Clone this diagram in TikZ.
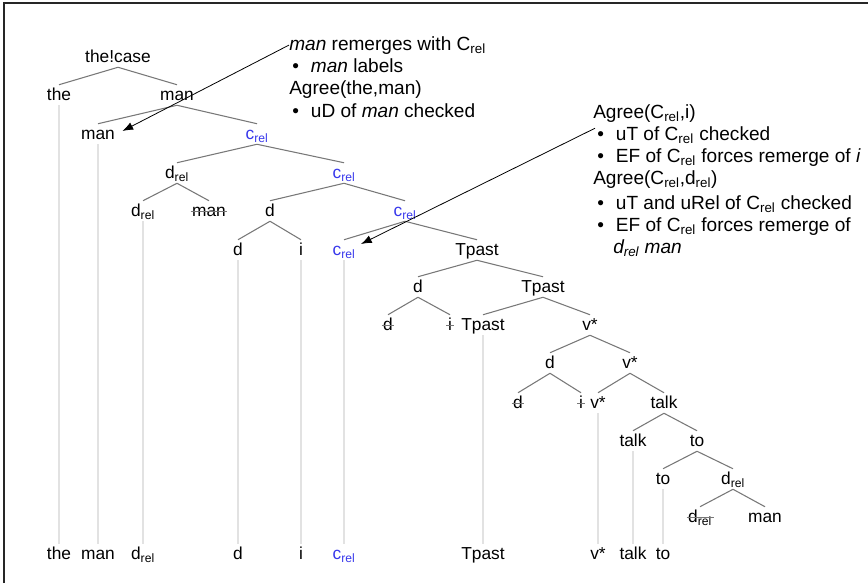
\documentclass[tikz,border=0pt]{standalone}
\usepackage{fontspec}
\setmainfont{Liberation Sans}
\usetikzlibrary{arrows.meta}

\definecolor{relblue}{RGB}{55,55,235}
\definecolor{branch}{RGB}{120,120,120}
\definecolor{tracegrey}{RGB}{226,226,226}

\newcommand{\rl}{\textsubscript{rel}}
\newcommand{\bul}{\makebox[14pt][l]{\textbullet}}

\tikzset{
  lbl/.style={inner sep=2.5pt, text height=9pt, text depth=1pt, font=\fontsize{13}{15}\selectfont},
  rel/.style={lbl, text=relblue},
  struck/.style={lbl, append after command={(\tikzlastnode.west) edge[branch, line width=0.7pt, shorten <=1.5pt, shorten >=1.5pt] (\tikzlastnode.east)}},
  br/.style={branch, line width=0.8pt},
  trc/.style={tracegrey, line width=1.5pt},
  arr/.style={-{Latex[length=8pt,width=6pt]}, line width=0.6pt},
  note/.style={anchor=base west, inner sep=0pt, font=\fontsize{14.3}{17}\selectfont}
}

\begin{document}
\begin{tikzpicture}[x=0.75pt, y=-0.75pt]
\useasboundingbox (0,0) rectangle (868,583);
\draw[line width=1.5pt, black!85] (4,583) -- (4,3) -- (868,3);

\node[lbl] (tc) at (118,57) {the!case};
\node[lbl] (the) at (59,95) {the};
\node[lbl] (man1) at (177,95) {man};
\node[lbl] (man2) at (98,134) {man};
\node[rel] (c1) at (257,134) {c\rl};
\node[lbl] (dr1) at (177,173) {d\rl};
\node[rel] (c2) at (344,173) {c\rl};
\node[lbl] (dr2) at (143,211) {d\rl};
\node[struck] (man3) at (209,211) {man};
\node[lbl] (d1) at (270,211) {d};
\node[rel] (c3) at (405,211) {c\rl};
\node[lbl] (d2) at (238,250) {d};
\node[lbl] (i1) at (301,250) {i};
\node[rel] (c4) at (344,250) {c\rl};
\node[lbl] (tp1) at (477,250) {Tpast};
\node[lbl] (d3) at (418,287) {d};
\node[lbl] (tp2) at (543,287) {Tpast};
\node[struck] (d4) at (388,325) {d};
\node[struck] (i2) at (450,325) {i};
\node[lbl] (tp3) at (483,325) {Tpast};
\node[lbl] (v1) at (590,325) {v*};
\node[lbl] (d5) at (550,363) {d};
\node[lbl] (v2) at (630,363) {v*};
\node[struck] (d6) at (518,403) {d};
\node[struck] (i3) at (581,403) {i};
\node[lbl] (v3) at (598,403) {v*};
\node[lbl] (tk1) at (664,403) {talk};
\node[lbl] (tk2) at (633,441) {talk};
\node[lbl] (to1) at (697,441) {to};
\node[lbl] (to2) at (663,479) {to};
\node[lbl] (dr3) at (733,479) {d\rl};
\node[struck] (dr4) at (700,517) {d\rl};
\node[lbl] (man4) at (765,517) {man};

\foreach \p/\c in {tc/the, tc/man1, man1/man2, man1/c1, c1/dr1, c1/c2, dr1/dr2, dr1/man3,
                   c2/d1, c2/c3, d1/d2, d1/i1, c3/c4, c3/tp1, tp1/d3, tp1/tp2, d3/d4, d3/i2,
                   tp2/tp3, tp2/v1, v1/d5, v1/v2, d5/d6, d5/i3, v2/v3, v2/tk1, tk1/tk2, tk1/to1,
                   to1/to2, to1/dr3, dr3/dr4, dr3/man4}
  \draw[br] (\p.south) -- (\c.north);

\node[lbl] (bthe) at (59,554) {the};
\node[lbl] (bman) at (98,554) {man};
\node[lbl] (bdr) at (143,554) {d\rl};
\node[lbl] (bd) at (238,554) {d};
\node[lbl] (bi) at (301,554) {i};
\node[rel] (bc) at (344,554) {c\rl};
\node[lbl] (btp) at (483,554) {Tpast};
\node[lbl] (bv) at (598,554) {v*};
\node[lbl] (btk) at (633,554) {talk};
\node[lbl] (bto) at (663,554) {to};

\foreach \a/\b in {the/bthe, man2/bman, dr2/bdr, d2/bd, i1/bi, c4/bc, tp3/btp, v3/bv, tk2/btk, to2/bto}
  \draw[trc] (\a.south) -- (\b.north);

\node[note] (n1) at (289,50) {\textit{man} remerges with C\rl};
\node[note] (n2) at (292,72) {\bul\textit{man} labels};
\node[note] (n3) at (289,94) {Agree(the,man)};
\node[note] (n4) at (292,117) {\bul uD of \textit{man} checked};

\node[note] (m1) at (593,118) {Agree(C\rl,i)};
\node[note] (m2) at (597,140) {\bul uT of C\rl{} checked};
\node[note] (m3) at (597,162) {\bul EF of C\rl{} forces remerge of \textit{i}};
\node[note] (m4) at (593,184) {Agree(C\rl,d\rl)};
\node[note] (m5) at (597,209) {\bul uT and uRel of C\rl{} checked};
\node[note] (m6) at (597,231) {\bul EF of C\rl{} forces remerge of};
\node[note] (m7) at (613,253) {\textit{d\rl{} man}};

\draw[arr] (n1.west) -- ([shift={(4,-3)}]man2.east);
\draw[arr] ([shift={(2,6)}]m1.south west) -- ([shift={(2,-6)}]c4.east);
\end{tikzpicture}
\end{document}
